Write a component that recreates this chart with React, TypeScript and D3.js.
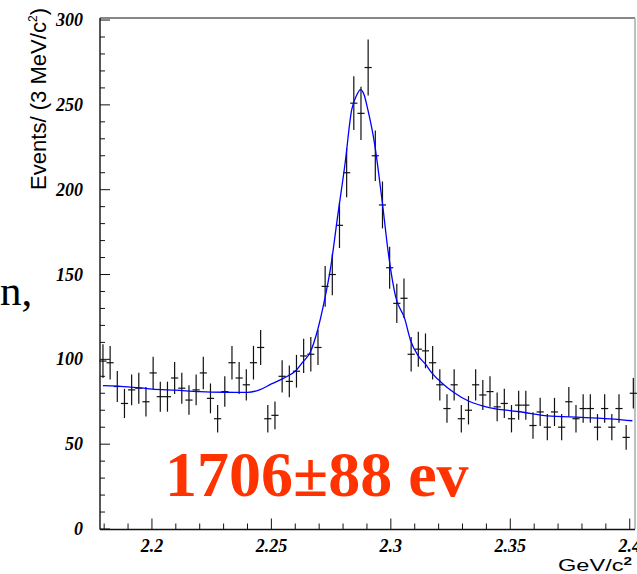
import React from "react";
import * as d3 from "d3";

// Histogram: 3 MeV bins starting at 2.178 GeV
const binStart = 2.178;
const binWidth = 0.003;
const counts = [
  99, 98, 84, 74, 82, 83, 75, 92, 78, 78,
  89, 83, 76, 82, 92, 77, 65, 81, 98, 89,
  85, 98, 107, 65, 67, 90, 87, 93, 102, 103,
  107, 143, 150, 179, 210, 251, 245, 272, 220, 191,
  154, 133, 136, 103, 106, 105, 98, 85, 71, 85,
  65, 70, 85, 79, 81, 72, 74, 65, 73, 73,
  61, 69, 60, 69, 60, 75, 65, 71, 71, 60,
  71, 60, 71, 54, 80,
];

// Fit curve
const fitX = [
  2.1795, 2.19, 2.2, 2.21, 2.22, 2.23, 2.24, 2.245, 2.25, 2.255,
  2.2602, 2.2632, 2.2662, 2.2693, 2.2721, 2.2749, 2.2777, 2.2808, 2.2836, 2.2858,
  2.2873, 2.2888, 2.2904, 2.2932, 2.2963, 2.2992, 2.302, 2.3058, 2.3083, 2.3114,
  2.3144, 2.3175, 2.3211, 2.3264, 2.3323, 2.3383, 2.3444, 2.3504, 2.3539, 2.3656,
  2.3797, 2.3936, 2.4011,
];
const fitY = [
  84.5, 83.8, 82.5, 81.8, 81, 80.6, 80.5, 82, 85.5, 88.8,
  93.3, 98.5, 104, 117, 134, 155, 184, 215, 247, 256,
  259, 256, 247, 227, 194, 160, 137, 124, 111, 102.2,
  97.3, 91.4, 86.4, 80.5, 75.6, 72.6, 70.7, 69.7, 69.1, 66.7,
  65.8, 64.8, 63.8,
];

const yTickLabels = [0, 50, 100, 150, 200, 250, 300];
const xTickLabels = ["2.2", "2.25", "2.3", "2.35", "2.4"];

const W = 637;
const H = 574;

export default function App() {
  const x = d3.scaleLinear().domain([2.17826, 2.4022]).range([100, 635]);
  const y = d3.scaleLinear().domain([0, 301.2]).range([529, 18]);

  const yMinor = d3.range(0, 301, 10);
  const xMinor = d3.range(0, 23).map((i) => +(2.18 + i * 0.01).toFixed(3));

  const line = d3
    .line<number>()
    .x((_, i) => x(fitX[i]))
    .y((d) => y(d))
    .curve(d3.curveMonotoneX);

  const tickFont = {
    fontFamily: "'Liberation Serif', 'Times New Roman', serif",
    fontWeight: "bold" as const,
    fontStyle: "italic" as const,
    fontSize: 18,
  };

  return (
    <svg
      width={W}
      height={H}
      style={{ position: "absolute", left: 0, top: 0, background: "#fff" }}
    >
      <rect x={0} y={0} width={W} height={H} fill="#fff" />
      {/* slide text fragment */}
      <text
        x={0}
        y={305}
        fontFamily="'Liberation Serif', 'Times New Roman', serif"
        fontSize={43}
        fill="#000"
      >
        n,
      </text>

      {/* frame */}
      <line x1={100} x2={635} y1={18} y2={18} stroke="#111" strokeWidth={1.2} />
      <line x1={635} x2={635} y1={18} y2={529} stroke="#aaa" strokeWidth={1.5} />
      <line x1={100} x2={100} y1={18} y2={529.5} stroke="#111" strokeWidth={1.4} />
      <line x1={100} x2={635} y1={529.5} y2={529.5} stroke="#111" strokeWidth={1.4} />

      {/* y ticks */}
      {yMinor.map((v) => (
        <line
          key={"yt" + v}
          x1={100}
          x2={100 + (v % 50 === 0 ? 10 : 5)}
          y1={y(v)}
          y2={y(v)}
          stroke="#111"
          strokeWidth={1}
        />
      ))}
      {yTickLabels.map((v) => (
        <text
          key={"yl" + v}
          x={83}
          y={y(v) + 6}
          textAnchor="end"
          {...tickFont}
        >
          {v}
        </text>
      ))}

      {/* x ticks */}
      {xMinor.map((v, i) => (
        <line
          key={"xt" + i}
          x1={x(v)}
          x2={x(v)}
          y1={529.5}
          y2={529.5 - (i % 5 === 2 ? 11 : 6)}
          stroke="#111"
          strokeWidth={1}
        />
      ))}
      {xTickLabels.map((s) => (
        <text
          key={"xl" + s}
          x={x(+s)}
          y={552}
          textAnchor="middle"
          {...tickFont}
        >
          {s}
        </text>
      ))}

      {/* axis titles */}
      <text
        transform="translate(46,190) rotate(-90)"
        fontFamily="'Liberation Sans', Arial, sans-serif"
        fontSize={22}
        fill="#000"
        textLength={182}
        lengthAdjust="spacingAndGlyphs"
      >
        Events/ (3 MeV/c<tspan dy={-9} fontSize={12}>2</tspan>
        <tspan dy={9}>)</tspan>
      </text>
      <text
        x={558}
        y={571}
        fontFamily="'Liberation Sans', Arial, sans-serif"
        fontSize={17}
        fill="#000"
        textLength={74}
        lengthAdjust="spacingAndGlyphs"
      >
        GeV/c<tspan dy={-6} fontSize={11} fontWeight="bold">2</tspan>
      </text>

      {/* data points */}
      {counts.map((c, i) => {
        const cx = binStart + binWidth * (i + 0.5);
        const e = Math.sqrt(c);
        return (
          <g key={"p" + i} stroke="#111" strokeWidth={1.2}>
            <line x1={x(cx)} x2={x(cx)} y1={y(c - e)} y2={y(c + e)} />
            <line
              x1={x(cx - binWidth / 2)}
              x2={x(cx + binWidth / 2)}
              y1={y(c)}
              y2={y(c)}
            />
          </g>
        );
      })}

      {/* fit */}
      <path d={line(fitY) || ""} fill="none" stroke="#0000ff" strokeWidth={1.3} />

      {/* result label */}
      <text
        x={165}
        y={496}
        fontFamily="'Liberation Serif', 'Times New Roman', serif"
        fontWeight="bold"
        fontSize={64}
        fill="#ff3300"
      >
        1706±88 ev
      </text>
    </svg>
  );
}
